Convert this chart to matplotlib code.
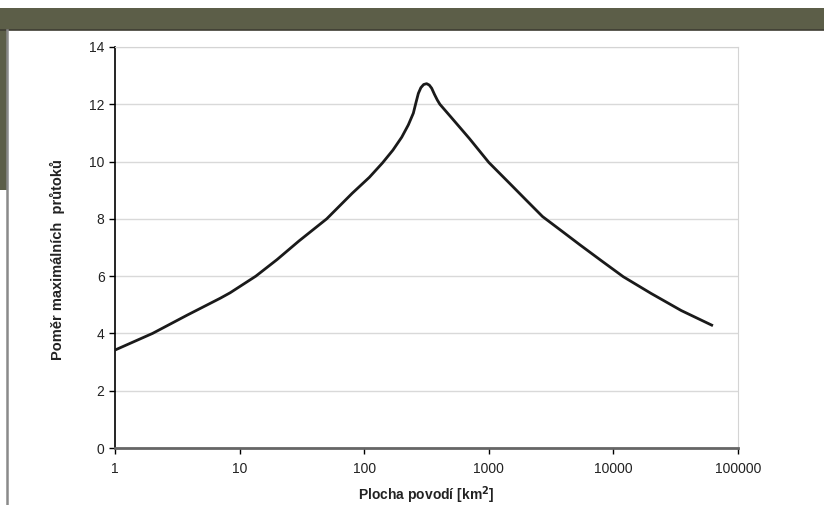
import numpy as np
import matplotlib.pyplot as plt
from matplotlib.patches import Rectangle
from matplotlib.lines import Line2D

plt.rcParams['font.family'] = ['Liberation Sans', 'DejaVu Sans']

# plocha povodi [km2] and pomer maximalnich prutoku
area = [1, 2, 3.8, 7, 8.4, 13.5, 20, 30, 50, 80, 110, 140, 170, 200, 226, 248,
        260, 272, 285, 300, 317, 333, 348, 366, 386, 405, 500, 700, 1000,
        1500, 2000, 2700, 4000, 5400, 8000, 12000, 20000, 35000, 61500]
ratio = [3.42, 4.0, 4.64, 5.23, 5.42, 6.0, 6.58, 7.23, 8.0, 8.89, 9.45, 9.95,
         10.4, 10.85, 11.28, 11.69, 12.05, 12.38, 12.58, 12.69, 12.72, 12.67,
         12.56, 12.35, 12.15, 12.0, 11.54, 10.8, 9.97, 9.2, 8.65, 8.08, 7.52,
         7.09, 6.54, 5.98, 5.4, 4.8, 4.29]

x_ticks = [1, 10, 100, 1000, 10000, 100000]
x_tick_labels = ['1', '10', '100', '1000', '10000', '100000']
y_ticks = [0, 2, 4, 6, 8, 10, 12, 14]

W, H = 824, 505
fig = plt.figure(figsize=(W / 100, H / 100), dpi=100)
fig.patch.set_facecolor('white')

def px_rect(x0, y0, x1, y1, **kw):
    # rectangle given in pixel coords from top-left
    fig.patches.append(Rectangle((x0 / W, 1 - y1 / H), (x1 - x0) / W, (y1 - y0) / H,
                                 transform=fig.transFigure, zorder=0, **kw))

olive = '#5c5e48'
px_rect(0, 8, W, 30, facecolor=olive, edgecolor='none')
px_rect(0, 8, 7, 190, facecolor=olive, edgecolor='none')
fig.lines.append(Line2D([0, 1], [1 - 30 / H, 1 - 30 / H], transform=fig.transFigure,
                        color='#3e3d33', lw=1.2))
fig.lines.append(Line2D([7 / W, 7 / W], [0, 1 - 30 / H], transform=fig.transFigure,
                        color='#8a8a8a', lw=1.8))

ax = fig.add_axes([115 / W, 1 - 448 / H, (738 - 115) / W, (448 - 47) / H])
ax.plot(area, ratio, color='#1a1a1a', lw=2, solid_joinstyle='round', zorder=3)

ax.set_xscale('log')
ax.set_xlim(1, 100000)
ax.set_ylim(0, 14)
ax.set_xticks(x_ticks)
ax.set_xticklabels(x_tick_labels)
ax.xaxis.set_minor_locator(plt.NullLocator())
ax.set_yticks(y_ticks)
ax.grid(axis='y', color='#d9d9d9', lw=1)
ax.set_axisbelow(True)

ax.spines['left'].set_color('black')
ax.spines['left'].set_linewidth(1.2)
ax.spines['bottom'].set_color('#666666')
ax.spines['bottom'].set_linewidth(2)
ax.spines['top'].set_color('#d4d4d4')
ax.spines['right'].set_color('#d4d4d4')

ax.tick_params(axis='both', direction='out', length=4, width=1, color='black',
               labelsize=10, labelcolor='#222222')
ax.tick_params(axis='x', pad=6)

ax.set_xlabel('Plocha povodí [km$^{\\mathbf{2}}$]', fontsize=10, fontweight='bold',
              color='#222222', labelpad=6)
ax.set_ylabel('Poměr maximálních  průtoků', fontsize=10.5, fontweight='bold',
              color='#222222')
ax.yaxis.set_label_coords(-0.08, 0.47)

fig.savefig('out.png', dpi=100)
